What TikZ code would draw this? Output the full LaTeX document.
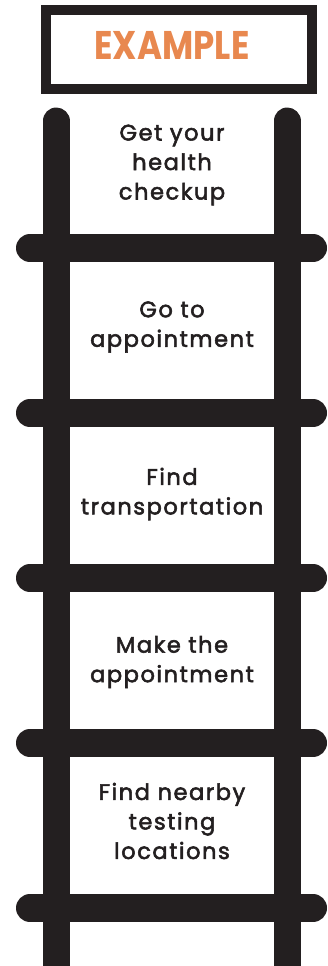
\documentclass[tikz,border=0pt]{standalone}
\usepackage{fontspec}
\setmainfont{Poppins}
\newfontfamily\stepfont{Poppins}[LetterSpace=7, FakeBold=2.4]
\definecolor{ladderblack}{HTML}{231F20}
\definecolor{titleorange}{HTML}{E8884F}

\begin{document}
\begin{tikzpicture}[x=1pt, y=-1pt,
    rail/.style={line width=27pt, ladderblack, line cap=round},
    rung/.style={line width=28pt, ladderblack, line cap=round},
    steptext/.style={align=center, text=ladderblack, font=\stepfont\fontsize{22.5}{29.5}\selectfont}]
    % Khung hình
    \useasboundingbox (0,0) rectangle (328,966);

    % 1. Khung tiêu đề
    \draw[line width=10pt, ladderblack] (46,10) rectangle (312,89);
    \node[text=titleorange, font=\bfseries\fontsize{40}{40}\selectfont] (title) at (172,45) {\scalebox{0.85}[1]{EXAMPLE}};

    % 2. Hai thanh dọc của thang
    \draw[rail] (56,121) -- (56,980);
    \draw[rail] (287,121) -- (287,980);

    % 3. Các bậc thang
    \foreach \y in {248,413,578,743,908}
        \draw[rung] (30,\y) -- (313,\y);

    % 4. Các bước
    \node[steptext] (step1) at (172,165) {Get your\\health\\checkup};
    \node[steptext] (step2) at (172,327) {Go to\\appointment};
    \node[steptext] (step3) at (172,494) {Find\\transportation};
    \node[steptext] (step4) at (172,662) {Make the\\appointment};
    \node[steptext] (step5) at (172,821) {Find nearby\\testing\\locations};

\end{tikzpicture}
\end{document}
